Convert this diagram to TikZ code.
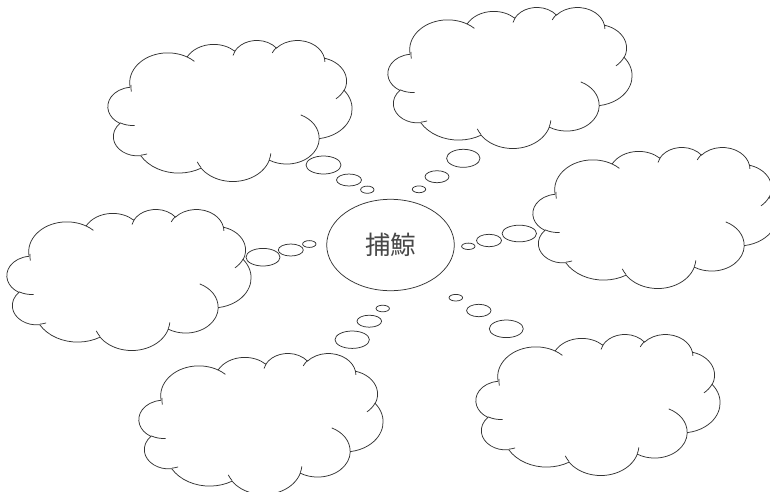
\documentclass[tikz,border=0pt]{standalone}
\usepackage{fontspec}
\newfontfamily\cjk{Noto Sans CJK JP}
\usetikzlibrary{shapes.geometric}
\tikzset{
  cloudline/.style={line width=0.75pt, draw=black!80},
  bubble/.style={line width=0.75pt, draw=black!80, fill=white},
  hub/.style={ellipse, draw=black!80, line width=0.75pt, fill=white, inner sep=0pt,
    text=black!72, minimum width=127.6pt, minimum height=91.4pt, font=\cjk\fontsize{25.5}{25.5}\selectfont}
}
% arc of an ellipse given with visual (geometric) angles, as in DrawingML
\newcommand\carc[4]{arc[x radius=#1, y radius=#2,
  start angle={atan2((#1)*sin(#3),(#2)*cos(#3))},
  delta angle={mod(atan2((#1)*sin((#3)+(#4)),(#2)*cos((#3)+(#4)))-atan2((#1)*sin(#3),(#2)*cos(#3))+720,360)}]}
\newcommand\cloudat[2]{%
\begin{scope}[shift={(#1,#2)}, x={(0.5648pt,0pt)}, y={(0pt,-0.3264pt)}]
\draw[cloudline, fill=white] (39,143.7)
  \carc{67.53}{91.90}{-190.48748}{123.78053}
  \carc{53.33}{72.67}{-144.10238}{89.94523}
  \carc{43.65}{59.45}{-145.80792}{99.72302}
  \carc{48.57}{65.95}{-130.98607}{117.24173}
  \carc{53.33}{72.73}{-78.70888}{109.02692}
  \carc{67.75}{92.20}{-46.26725}{130.269}
  \carc{57.85}{78.67}{0.62502}{114.03333}
  \carc{67.52}{92.15}{22.4516}{115.17255}
  \carc{77.20}{105.43}{66.24263}{75.71102}
  \carc{43.60}{59.18}{-274.94208}{146.73557}
  \carc{43.45}{59.45}{-246.8285}{152.51885} -- cycle;
\draw[cloudline] (46.93,261.77) \carc{43.45}{59.45}{86.742}{26.4295};
\draw[cloudline] (69.28,348.99) \carc{43.60}{59.18}{73.61047}{11.44747};
\draw[cloudline] (164.78,390.90) \carc{67.52}{92.15}{137.62415}{14.0811};
\draw[cloudline] (288.27,347.51) \carc{67.52}{92.15}{6.45327}{15.99835};
\draw[cloudline] (341.29,229.54) \carc{57.85}{78.67}{-70.29235}{70.91737};
\draw[cloudline] (417.98,153.54) \carc{53.33}{72.73}{30.31803}{27.7515};
\draw[cloudline] (383.24,54.26) \carc{48.57}{65.95}{-13.74433}{14.8589};
\draw[cloudline] (290.78,39.52) \carc{48.57}{65.95}{-149.18145}{18.19537};
\draw[cloudline] (221.41,47.20) \carc{43.65}{59.45}{-163.49427}{17.68635};
\draw[cloudline] (140.00,51.92) \carc{67.53}{91.90}{-66.70695}{12.31935};
\draw[cloudline] (41.27,157.89) \carc{67.53}{91.90}{-190.48748}{17.24215};
\end{scope}}
\begin{document}
\begin{tikzpicture}[x=1pt, y=-1pt]
\useasboundingbox (0,0) rectangle (770,491);
% hub
\node[hub] (hub) at (390.5,245) {捕鯨};
% trail to top-left cloud
\draw[bubble] (367.3,189.7) ellipse [x radius=6.7, y radius=3.6];
\draw[bubble] (349,180) ellipse [x radius=12.5, y radius=6];
\draw[bubble] (323.5,165) ellipse [x radius=17.5, y radius=9];
% trail to top-right cloud
\draw[bubble] (419,189.3) ellipse [x radius=6.7, y radius=3.4];
\draw[bubble] (437,176.7) ellipse [x radius=12, y radius=6];
\draw[bubble] (463.3,158.3) ellipse [x radius=16.7, y radius=9];
% trail to left cloud
\draw[bubble] (309.3,244) ellipse [x radius=6.7, y radius=3.4];
\draw[bubble] (290.8,250) ellipse [x radius=12.5, y radius=6];
\draw[bubble] (263,257.2) ellipse [x radius=17, y radius=8.8];
% trail to right cloud
\draw[bubble] (468.3,246.3) ellipse [x radius=6.7, y radius=3.2];
\draw[bubble] (489,240.5) ellipse [x radius=12.5, y radius=6.2];
\draw[bubble] (519.3,233.5) ellipse [x radius=17.2, y radius=8.3];
% trail to bottom-left cloud
\draw[bubble] (382.7,308.5) ellipse [x radius=6.7, y radius=3.3];
\draw[bubble] (369.3,321.2) ellipse [x radius=12.3, y radius=6];
\draw[bubble] (352.2,339.7) ellipse [x radius=17.2, y radius=8.7];
% trail to bottom-right cloud
\draw[bubble] (455.8,297.7) ellipse [x radius=6.8, y radius=3.3];
\draw[bubble] (478.8,310.5) ellipse [x radius=12.2, y radius=6.2];
\draw[bubble] (506.3,328.8) ellipse [x radius=17, y radius=8.8];
% clouds
\cloudat{108}{40}
\cloudat{388}{7}
\cloudat{7}{209}
\cloudat{533}{147}
\cloudat{139}{353}
\cloudat{476}{334}
\end{tikzpicture}
\end{document}
